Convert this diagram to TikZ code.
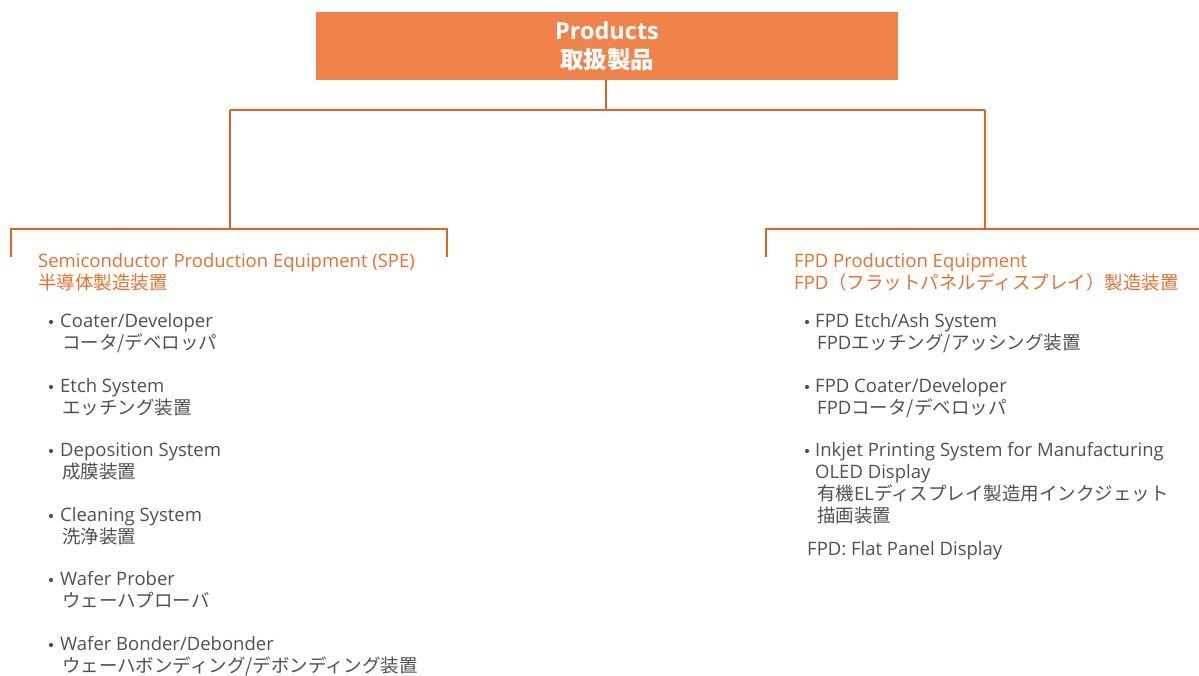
\documentclass[tikz,border=0pt]{standalone}
\usepackage{fontspec}
\setmainfont{Open Sans}
\newfontfamily\jp{Noto Sans CJK JP}
\definecolor{boxfill}{HTML}{EF834A}
\definecolor{linec}{HTML}{E2631F}
\definecolor{headc}{HTML}{E8702F}
\definecolor{bodyc}{HTML}{505050}
\begin{document}
\begin{tikzpicture}[x=1pt,y=-1pt,
  conn/.style={draw=linec,line width=2.2pt},
  head/.style={anchor=base west,inner sep=0pt,text=headc,font=\fontsize{18.5}{22}\selectfont},
  body/.style={anchor=base west,inner sep=0pt,text=bodyc,font=\fontsize{18.5}{22}\selectfont},
  bul/.style={circle,fill=bodyc,inner sep=0pt,minimum size=4.2pt}]
\useasboundingbox (0,0) rectangle (1199,675);
% top box
\node[fill=boxfill,minimum width=582pt,minimum height=68pt,inner sep=0pt,align=center,
  text=white,font=\fontsize{23.5}{29}\selectfont\bfseries] (top) at (607,46)
  {Products\\{\jp 取扱製品}};
\coordinate (hub) at (606,110);
\coordinate (jl) at (230,110);
\coordinate (jr) at (985,110);
\coordinate (bl) at (230,229);
\coordinate (br) at (985,229);
\coordinate (bla) at (11,229);
\coordinate (blb) at (447,229);
\coordinate (bra) at (766,229);
\coordinate (brb) at (1199,229);
\coordinate (bla2) at (11,257);
\coordinate (blb2) at (447,257);
\coordinate (bra2) at (766,257);
\draw[conn] (top.south -| hub) -- (hub);
\draw[conn] (jl) -- (jr);
\draw[conn] (jl) -- (bl);
\draw[conn] (jr) -- (br);
\draw[conn] (bla2) -- (bla) -- (blb) -- (blb2);
\draw[conn] (bra2) -- (bra) -- (brb);
% left heading
\node[head] (lh1) at (38,267) {Semiconductor Production Equipment (SPE)};
\node[head] (lh2) at (38,289) {\jp 半導体製造装置};
% left items
\node[bul] (lb1) at (51,322) {};
\node[body] (l1a) at (60,327) {Coater/Developer};
\node[body] (l1b) at (62,349) {\jp コータ/デベロッパ};
\node[bul] (lb2) at (51,387) {};
\node[body] (l2a) at (60,392) {Etch System};
\node[body] (l2b) at (62,414) {\jp エッチング装置};
\node[bul] (lb3) at (51,451) {};
\node[body] (l3a) at (60,456) {Deposition System};
\node[body] (l3b) at (62,478) {\jp 成膜装置};
\node[bul] (lb4) at (51,516) {};
\node[body] (l4a) at (60,521) {Cleaning System};
\node[body] (l4b) at (62,543) {\jp 洗浄装置};
\node[bul] (lb5) at (51,580) {};
\node[body] (l5a) at (60,585) {Wafer Prober};
\node[body] (l5b) at (62,607) {\jp ウェーハプローバ};
\node[bul] (lb6) at (51,645) {};
\node[body] (l6a) at (60,650) {Wafer Bonder/Debonder};
\node[body] (l6b) at (62,672) {\jp ウェーハボンディング/デボンディング装置};
% right heading
\node[head] (rh1) at (794,267) {FPD Production Equipment};
\node[head] (rh2) at (794,289) {FPD{\jp （フラットパネルディスプレイ）製造装置}};
% right items
\node[bul] (rb1) at (807,322) {};
\node[body] (r1a) at (815,327) {FPD Etch/Ash System};
\node[body] (r1b) at (817,349) {FPD{\jp エッチング/アッシング装置}};
\node[bul] (rb2) at (807,387) {};
\node[body] (r2a) at (815,392) {FPD Coater/Developer};
\node[body] (r2b) at (817,414) {FPD{\jp コータ/デベロッパ}};
\node[bul] (rb3) at (807,451) {};
\node[body] (r3a) at (815,456) {Inkjet Printing System for Manufacturing};
\node[body] (r3b) at (815,478) {OLED Display};
\node[body] (r3c) at (817,500) {{\jp 有機}EL{\jp ディスプレイ製造用インクジェット}};
\node[body] (r3d) at (817,522) {\jp 描画装置};
\node[body] (note) at (807,555) {FPD: Flat Panel Display};
\end{tikzpicture}
\end{document}
